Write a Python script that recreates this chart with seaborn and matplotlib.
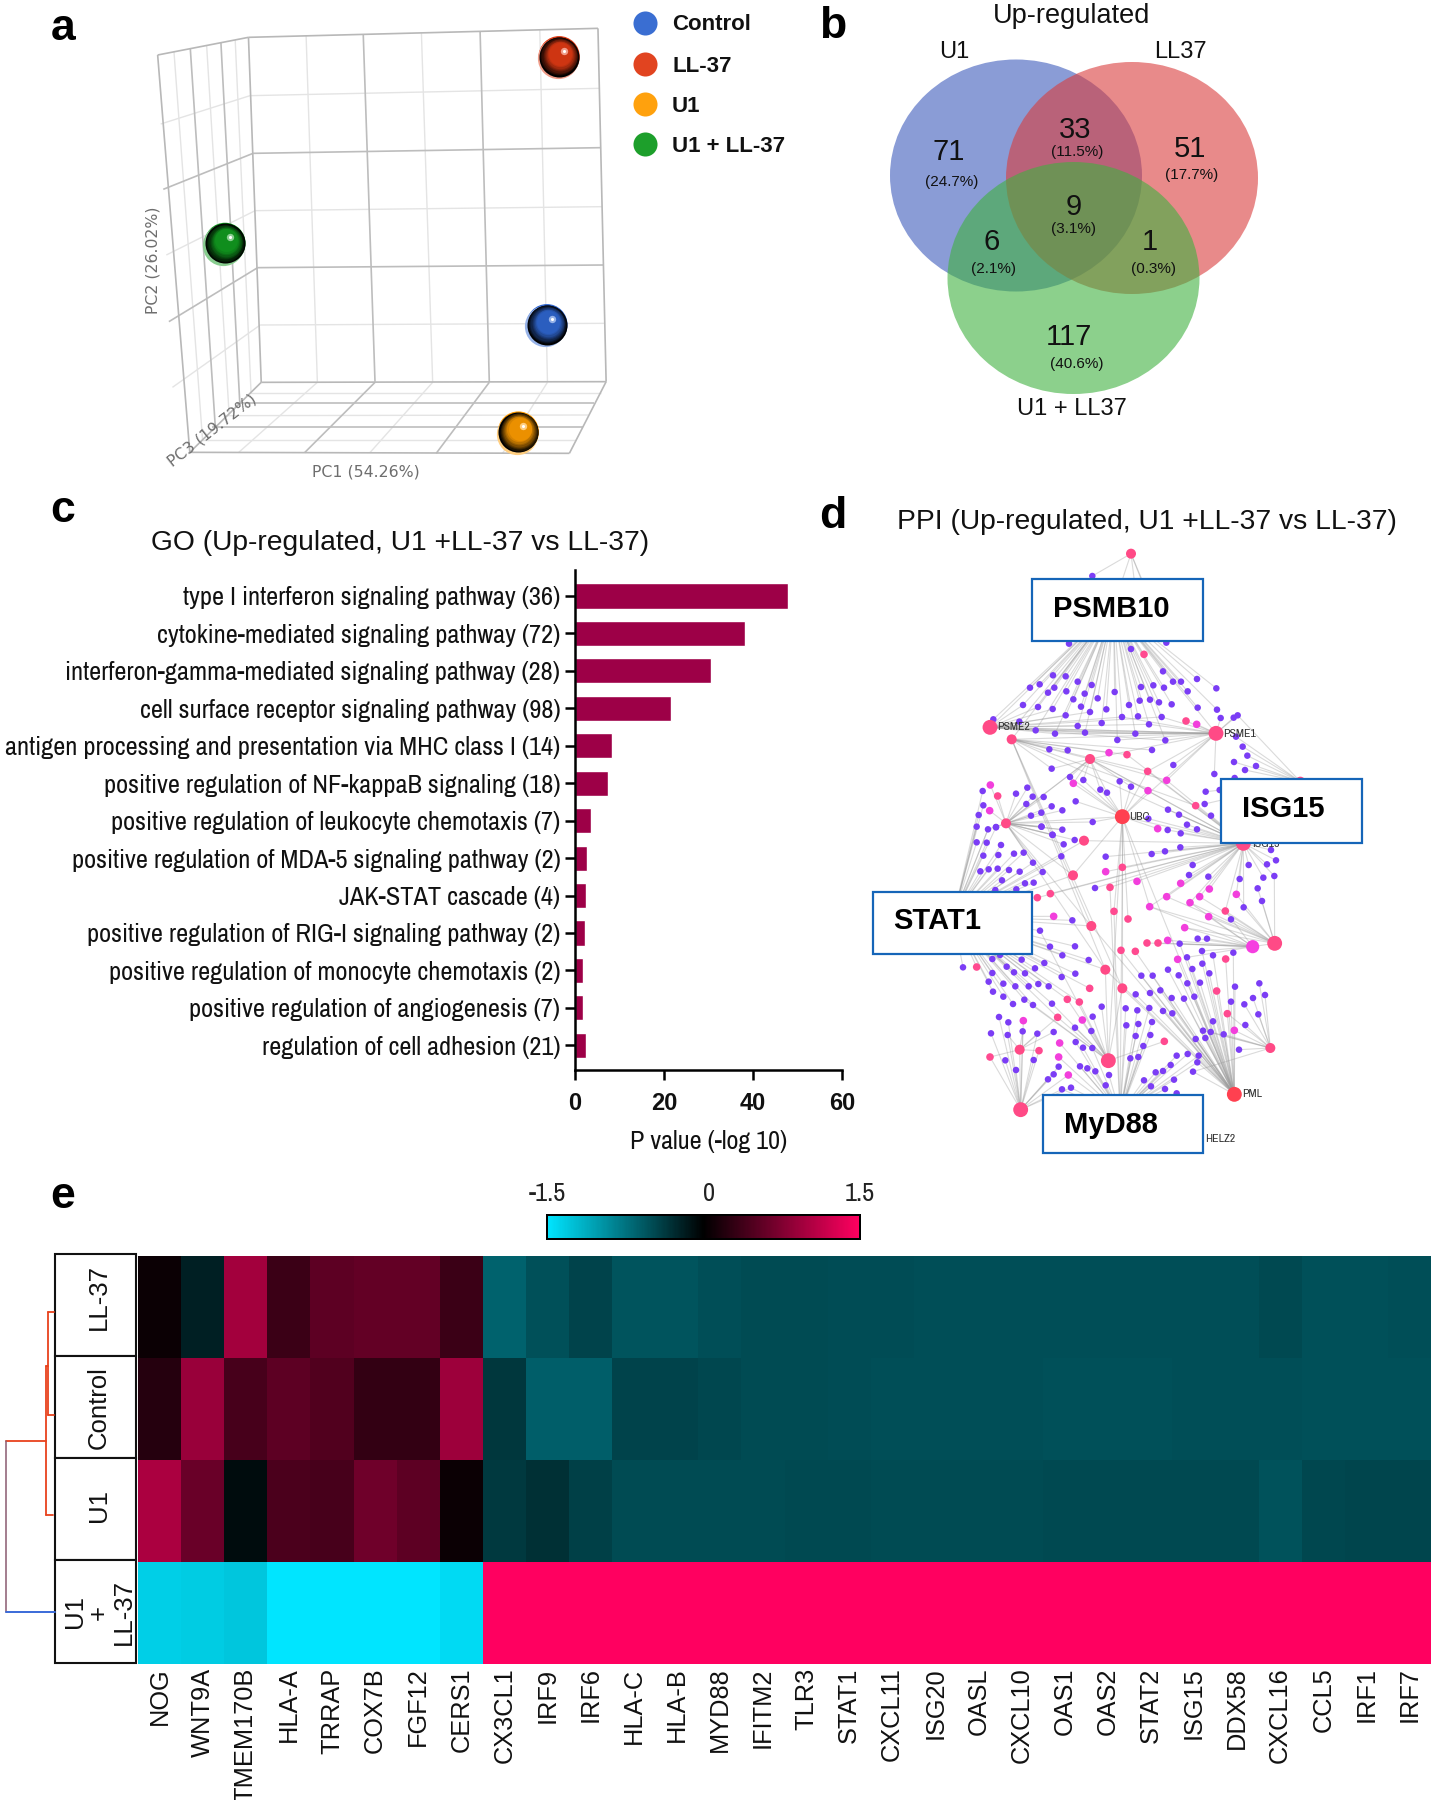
#import libraries
import numpy as np
import pandas as pd
import matplotlib
matplotlib.use("Agg")
import matplotlib.pyplot as plt
from matplotlib import font_manager
from matplotlib.collections import LineCollection
from matplotlib.colors import LinearSegmentedColormap, to_rgb
from matplotlib.patches import Ellipse, Rectangle
import seaborn as sns

#panel a values (positions on the 3d box picture)
pca_groups = ["Control", "LL-37", "U1", "U1 + LL-37"]
pca_x = [1072, 1096, 1016, 441]
pca_y = [974, 170, 1296, 730]
pca_colors = ["#2F66D0", "#E03A14", "#FF9C00", "#119A1F"]
box_edges = [(487, 112, 1172, 85), (1172, 85, 1188, 1145), (1188, 1145, 512, 1147), (487, 112, 512, 1147),
             (487, 112, 309, 165), (309, 165, 372, 1357), (372, 1357, 512, 1147), (372, 1357, 1116, 1360),
             (1116, 1360, 1188, 1145)]
grid_dark = [(712, 105, 735, 1145), (941, 95, 959, 1145), (496, 460, 1178, 443), (505, 803, 1183, 795),
             (320, 568, 496, 460), (331, 965, 505, 803), (735, 1147, 597, 1358), (959, 1147, 855, 1360),
             (465, 1210, 1165, 1210), (415, 1280, 1142, 1280), (373, 146, 422, 1281), (433, 128, 470, 1210)]
grid_light = [(600, 108, 622, 1145), (826, 100, 848, 1145), (1058, 90, 1073, 1145), (490, 287, 1175, 265),
              (500, 632, 1180, 620), (510, 975, 1186, 970), (315, 372, 490, 287), (326, 765, 500, 632),
              (338, 1162, 510, 975), (622, 1147, 468, 1357), (848, 1147, 725, 1358), (1073, 1147, 985, 1360),
              (490, 1180, 1177, 1180), (440, 1247, 1153, 1245), (395, 1320, 1128, 1320), (341, 155, 397, 1319),
              (405, 136, 449, 1241), (461, 120, 492, 1176)]

#panel b values
venn_counts = ["71", "33", "51", "9", "6", "1", "117"]
venn_pcts = ["(24.7%)", "(11.5%)", "(17.7%)", "(3.1%)", "(2.1%)", "(0.3%)", "(40.6%)"]

#panel c values
go_terms = ["type I interferon signaling pathway (36)", "cytokine-mediated signaling pathway (72)",
            "interferon-gamma-mediated signaling pathway (28)", "cell surface receptor signaling pathway (98)",
            "antigen processing and presentation via MHC class I (14)", "positive regulation of NF-kappaB signaling (18)",
            "positive regulation of leukocyte chemotaxis (7)", "positive regulation of MDA-5 signaling pathway (2)",
            "JAK-STAT cascade (4)", "positive regulation of RIG-I signaling pathway (2)",
            "positive regulation of monocyte chemotaxis (2)", "positive regulation of angiogenesis (7)",
            "regulation of cell adhesion (21)"]
go_values = [47.8, 38.2, 30.6, 21.6, 8.3, 7.5, 3.7, 2.8, 2.4, 2.3, 1.7, 1.7, 2.4]

#panel d network, top part read in one crop, low part in the next crop
hub_top = {"top": (573, 41), "psmb10": (520, 200), "psme2": (150, 562), "psme2b": (215, 598), "psme1": (828, 580),
           "ubc": (547, 830), "left": (198, 850), "isg_r": (1081, 725), "m450": (450, 657)}
hub_low = {"isg15": (910, 70), "stat1": (40, 290), "myd88": (540, 880), "pml": (883, 823), "r1": (1004, 370),
           "r2": (938, 380), "r3": (991, 684), "r4": (505, 722), "bl": (242, 869), "m1": (399, 166),
           "m2": (432, 62), "m3": (454, 318), "m4": (496, 449), "m5": (547, 505), "m6": (239, 689)}
psmb10_top = [(339, 406), (377, 409), (413, 425), (455, 435), (270, 443), (299, 433), (343, 443), (324, 458), (379, 454),
              (434, 461), (400, 478), (473, 475), (524, 456), (603, 441), (640, 436), (672, 443), (599, 482), (630, 479),
              (657, 487), (695, 493), (567, 495), (499, 508), (423, 500), (377, 526), (450, 516), (546, 531), (594, 529),
              (665, 531), (413, 558), (485, 549), (627, 553), (345, 581), (435, 578), (586, 581), (532, 600), (676, 601),
              (669, 394), (699, 425), (723, 425), (771, 417), (743, 454), (829, 445), (573, 327), (612, 343), (249, 495),
              (294, 501), (338, 507), (160, 538), (238, 545), (287, 571), (773, 503), (831, 509), (828, 580), (150, 562),
              (215, 598), (387, 311), (679, 308)]
psme2_top = [(249, 495), (294, 501), (338, 507), (377, 526), (450, 516), (546, 531), (627, 553), (435, 578), (586, 581),
             (676, 601), (287, 571), (345, 581), (160, 538), (238, 545), (413, 558), (828, 580), (828, 580), (665, 531)]
psme2b_top = [(328, 628), (383, 631), (507, 638), (561, 644), (636, 630), (450, 657), (623, 694), (767, 797), (910, 910),
              (335, 686), (828, 580), (496, 1289), (454, 1158), (547, 1345)]
psme1_top = [(738, 543), (770, 553), (665, 531), (627, 553), (546, 531), (532, 600), (676, 601), (586, 581), (435, 578),
             (345, 581), (287, 571), (842, 534), (881, 533), (893, 526), (700, 675), (623, 694), (450, 657), (680, 721),
             (823, 702), (547, 830)]
isg_r_top = [(888, 590), (908, 620), (922, 647), (882, 666), (915, 690), (948, 678), (884, 714), (893, 526), (839, 750),
             (797, 755), (794, 792)]
top_top = [(457, 108), (520, 200), (679, 308), (640, 200), (590, 180)]
left_top = [(228, 761), (262, 743), (278, 770), (311, 771), (259, 792), (273, 827), (304, 818), (304, 860), (458, 846),
            (173, 768), (151, 735), (335, 799), (367, 811), (337, 884), (367, 869), (144, 868), (168, 861), (149, 812),
            (547, 830), (450, 657)]
ubc_top = [(573, 740), (539, 724), (624, 752), (653, 866), (481, 749), (501, 758), (390, 711), (430, 720), (400, 730),
           (407, 784), (623, 694), (910, 910), (625, 836), (458, 846)]
m450_top = [(335, 686), (400, 730), (390, 711), (430, 720), (481, 749), (501, 758), (573, 740), (198, 850), (680, 721),
            (910, 910)]
isg15_top = [(684, 809), (717, 824), (741, 854), (771, 868), (813, 827), (683, 870), (722, 880), (625, 836), (767, 797),
             (623, 694), (680, 721), (450, 657), (561, 644)]
stat1_top = [(128, 753), (130, 796), (116, 825), (110, 860), (144, 868)]
stat1_low = [(110, 20), (144, 28), (168, 22), (110, 67), (140, 68), (183, 75), (130, 107), (175, 105), (222, 101), (251, 98),
             (121, 154), (146, 148), (173, 146), (207, 150), (239, 155), (279, 128), (308, 156), (186, 181), (255, 190),
             (281, 188), (166, 210), (229, 208), (69, 442), (200, 440), (157, 417), (180, 405), (245, 419), (157, 459),
             (222, 457), (255, 460), (146, 485), (190, 491), (226, 499), (266, 499), (295, 492), (326, 499), (159, 515),
             (190, 530), (219, 552), (253, 539), (279, 555), (336, 551), (300, 332), (330, 380), (405, 379), (367, 406),
             (446, 420), (313, 429), (285, 445), (365, 471), (406, 461), (110, 441), (397, 301), (341, 289), (454, 318),
             (496, 449), (353, 592), (449, 505), (382, 538), (418, 546), (432, 62), (399, 166), (364, 109)]
left_low = [(338, 45), (367, 29), (371, 73), (404, 60), (305, 20), (454, 318), (496, 449), (399, 166), (279, 128), (308, 156)]
myd88_low = [(457, 684), (429, 683), (407, 666), (420, 739), (442, 745), (466, 754), (507, 765), (497, 796), (366, 808),
             (393, 803), (385, 765), (356, 711), (359, 669), (557, 565), (592, 571), (559, 616), (595, 612), (587, 648),
             (571, 715), (595, 711), (610, 678), (636, 606), (631, 645), (628, 564), (702, 779), (612, 781), (633, 799),
             (675, 807), (710, 820), (692, 735), (669, 753), (647, 757), (772, 727), (776, 707), (743, 702), (710, 707),
             (522, 274), (510, 202), (547, 142)]
r4_low = [(458, 590), (454, 633), (405, 623), (427, 600), (485, 560), (673, 664), (418, 546), (382, 538), (353, 592),
          (336, 551), (279, 555), (253, 539), (300, 332), (547, 505), (496, 449)]
pml_low = [(604, 467), (638, 467), (684, 449), (716, 466), (757, 447), (787, 431), (808, 460), (742, 490), (780, 488),
           (661, 511), (630, 519), (695, 534), (732, 536), (763, 530), (669, 573), (697, 580), (741, 412), (713, 418),
           (786, 393), (819, 604), (789, 632), (812, 636), (851, 643), (767, 657), (796, 654), (862, 581), (830, 513),
           (873, 545), (885, 500), (547, 505), (496, 449), (454, 318), (772, 727), (776, 707), (719, 371), (759, 755),
           (587, 523), (819, 406), (880, 398), (857, 417), (543, 391), (586, 394)]
r3_low = [(958, 490), (975, 525), (939, 534), (955, 583), (916, 615), (913, 553), (883, 631), (897, 689), (851, 643),
          (812, 636), (789, 632), (862, 581), (759, 755)]
r1_low = [(911, 262), (873, 298), (856, 273), (889, 223), (806, 290), (750, 248), (779, 230), (629, 260), (680, 230),
          (734, 323), (966, 243), (953, 205), (938, 380), (1003, 168)]
r2_low = [(773, 356), (801, 356), (719, 371), (683, 361), (654, 369), (621, 369), (734, 323), (806, 290), (629, 260),
          (750, 248), (856, 273), (741, 412), (786, 393)]
isg15_low = [(926, 135), (899, 177), (889, 223), (911, 262), (805, 170), (747, 165), (758, 135), (722, 190), (808, 207),
             (680, 230), (750, 248), (779, 230), (721, 82), (675, 94), (635, 102), (497, 110), (591, 184), (510, 202),
             (465, 204), (331, 221), (292, 233), (432, 62), (547, 142), (497, 155), (629, 260), (856, 273), (981, 133),
             (970, 173), (993, 90), (1008, 121), (1003, 168)]
bl_low = [(177, 591), (205, 607), (153, 640), (203, 645), (248, 634), (250, 602), (196, 721), (228, 750), (281, 720),
          (297, 692), (239, 689), (150, 711), (341, 763), (324, 778), (356, 740), (292, 641), (366, 808), (393, 803),
          (385, 765)]
m6_low = [(341, 636), (292, 641), (248, 634), (203, 645), (353, 592), (297, 692), (150, 711)]
ubc_low = [(547, 142), (522, 274), (399, 166), (564, 297), (629, 260), (883, 823), (547, 505), (505, 722)]
magenta_top = [(507, 638), (400, 730), (680, 721), (624, 752), (770, 553), (151, 735), (149, 812), (653, 866)]
magenta_low = [(497, 155), (591, 184), (341, 289), (629, 260), (889, 223), (734, 323), (683, 361), (883, 631), (359, 669),
               (356, 711), (385, 765), (427, 600), (250, 602), (713, 418), (722, 190), (808, 207), (680, 230), (750, 248),
               (779, 230), (806, 290)]
rose_top = [(612, 343), (738, 543), (561, 644), (623, 694), (767, 797), (173, 768)]
rose_low = [(547, 142), (510, 202), (331, 221), (292, 233), (522, 274), (564, 297), (856, 273), (621, 369), (654, 369),
            (543, 391), (586, 394), (857, 417), (830, 513), (862, 581), (673, 664), (449, 505), (382, 538), (418, 546),
            (353, 592), (150, 711), (297, 692), (110, 441)]

#panel e values
genes = ["NOG", "WNT9A", "TMEM170B", "HLA-A", "TRRAP", "COX7B", "FGF12", "CERS1", "CX3CL1", "IRF9", "IRF6", "HLA-C", "HLA-B",
         "MYD88", "IFITM2", "TLR3", "STAT1", "CXCL11", "ISG20", "OASL", "CXCL10", "OAS1", "OAS2", "STAT2", "ISG15", "DDX58",
         "CXCL16", "CCL5", "IRF1", "IRF7"]
row_ll37 = [0.07, -0.2, 0.95, 0.35, 0.55, 0.58, 0.58, 0.35, -0.64, -0.52, -0.44, -0.54, -0.54, -0.51, -0.49, -0.49, -0.5, -0.5,
            -0.51, -0.51, -0.51, -0.51, -0.51, -0.51, -0.51, -0.51, -0.47, -0.52, -0.52, -0.51]
row_control = [0.22, 0.9, 0.42, 0.55, 0.47, 0.3, 0.3, 0.92, -0.36, -0.62, -0.62, -0.44, -0.44, -0.46, -0.49, -0.49, -0.5, -0.51,
               -0.51, -0.51, -0.51, -0.52, -0.52, -0.52, -0.51, -0.51, -0.51, -0.52, -0.52, -0.52]
row_u1 = [1.0, 0.62, -0.08, 0.44, 0.42, 0.65, 0.55, 0.07, -0.37, -0.31, -0.42, -0.49, -0.49, -0.49, -0.49, -0.48, -0.48, -0.49,
          -0.49, -0.49, -0.49, -0.48, -0.48, -0.48, -0.48, -0.48, -0.53, -0.46, -0.45, -0.45]
row_both = [-1.35, -1.33, -1.3, -1.5, -1.5, -1.5, -1.5, -1.42, 1.5, 1.5, 1.5, 1.5, 1.5, 1.5, 1.5, 1.5, 1.5, 1.5,
            1.5, 1.5, 1.5, 1.5, 1.5, 1.5, 1.5, 1.5, 1.5, 1.5, 1.5, 1.5]
row_names = ["LL-37", "Control", "U1", "U1\n+\nLL-37"]

W, H = 1434, 1800
sns.set_theme(style="white")
#look for a narrow face, the figure uses condensed labels
narrow = "Liberation Sans"
narrow_scale = 0.875
for f in font_manager.fontManager.ttflist:
    low_name = f.name.lower()
    if "narrow" in low_name or "condensed" in low_name:
        narrow = f.name
        narrow_scale = 1.0
        break
plt.rcParams["font.family"] = ["Liberation Sans", "DejaVu Sans"]
fig = plt.figure(figsize=(W / 100, H / 100), dpi=100, facecolor="white")

#axes from picture pixels
def px_axes(left, top, right, bottom):
    ax = fig.add_axes([left / W, 1 - bottom / H, (right - left) / W, (bottom - top) / H])
    return ax

#whole figure overlay for text and boxes
page = px_axes(0, 0, W, H)
page.set_xlim(0, W)
page.set_ylim(H, 0)
page.axis("off")

#text sits a bit high when centred
def put(x, y, txt, **kw):
    kw.setdefault("ha", "center")
    kw.setdefault("va", "center")
    return page.text(x, y + 2, txt, **kw)

for letter, x, y in [("a", 63, 27), ("b", 833, 25), ("c", 63, 508), ("d", 833, 515), ("e", 63, 1194)]:
    put(x, y, letter, fontsize=32, fontweight="bold", color="black")

#a ---------------------------------------------------------
ax_a = px_axes(0, 0, 800, 490)
ax_a.set_xlim(0, 1568)
ax_a.set_ylim(1470, 0)
ax_a.axis("off")
ax_a.add_collection(LineCollection([[(a, b), (c, d)] for a, b, c, d in grid_light], colors="#E4E4E4", linewidths=1.0))
ax_a.add_collection(LineCollection([[(a, b), (c, d)] for a, b, c, d in grid_dark], colors="#BDBDBD", linewidths=1.2))
ax_a.add_collection(LineCollection([[(a, b), (c, d)] for a, b, c, d in box_edges], colors="#B8B8B8", linewidths=1.2))

pca = pd.DataFrame({"x": pca_x, "y": pca_y, "group": pca_groups})
sns.scatterplot(data=pca, x="x", y="y", hue="group", palette=pca_colors, s=880, linewidth=0, legend=False, ax=ax_a, zorder=3)
ax_a.set_xlabel("")
ax_a.set_ylabel("")

#sphere shading, layers pulled to upper right
for x, y, col in zip(pca_x, pca_y, pca_colors):
    base = np.array(to_rgb(col))
    ax_a.scatter([x - 3], [y + 5], s=880, color=base * 0.5 + 0.5, linewidth=0, zorder=3)
    for k in range(14):
        t = k / 13
        shade = base * min(1, t * 1.7) * 0.92
        ax_a.scatter([x + 4 * t], [y - 14 * t], s=830 * (1 - t * 0.85) ** 1.5, color=shade, linewidth=0, zorder=4)
    ax_a.scatter([x + 9], [y - 18], s=28, color=base * 0.5 + 0.5, linewidth=0, zorder=5)
    ax_a.scatter([x + 9], [y - 18], s=5, color="white", linewidth=0, zorder=6)

put(366, 470, "PC1 (54.26%)", fontsize=11.3, color="#6E6E6E", family="DejaVu Sans")
put(153, 258, "PC2 (26.02%)", fontsize=11.3, color="#6E6E6E", family="DejaVu Sans", rotation=90)
put(212, 428, "PC3 (19.72%)", fontsize=11.3, color="#6E6E6E", family="DejaVu Sans", rotation=38)

for name, col, y in zip(pca_groups, pca_colors, [23, 64, 104, 144]):
    page.scatter([645], [y], s=300, color=col, linewidth=0, alpha=0.95)
    put(672, y, name, fontsize=16, fontweight="bold", color="#111111", ha="left")

#b ---------------------------------------------------------
page.add_patch(Ellipse((1016, 175.5), 252, 232, facecolor="#3C5ABB", alpha=0.6, linewidth=0))
page.add_patch(Ellipse((1132, 178), 252, 232, facecolor="#DA3C3C", alpha=0.6, linewidth=0))
page.add_patch(Ellipse((1073.5, 278), 252, 232, facecolor="#3FB13F", alpha=0.6, linewidth=0))
count_xy = [(949, 150), (1075, 128), (1190, 147), (1074, 205), (992, 240), (1150, 240), (1069, 335)]
pct_xy = [(952, 180), (1077, 150), (1192, 173), (1074, 227), (994, 267), (1154, 267), (1077, 362)]
for txt, (x, y) in zip(venn_counts, count_xy):
    put(x, y, txt, fontsize=21, color="#111111")
for txt, (x, y) in zip(venn_pcts, pct_xy):
    put(x, y, txt, fontsize=11, color="#111111")
put(1072, 14, "Up-regulated", fontsize=19.5, color="#111111")
put(954, 50, "U1", fontsize=17, color="#111111")
put(1180, 50, "LL37", fontsize=17, color="#111111")
put(1072, 407, "U1 + LL37", fontsize=17, color="#111111")

#c ---------------------------------------------------------
ax_c = px_axes(575, 570, 842, 1070)
go = pd.DataFrame({"term": go_terms, "value": go_values})
sns.barplot(data=go, y="term", x="value", color="#9D0047", saturation=1, width=0.67, ax=ax_c)
ax_c.set_xlim(0, 60)
ax_c.set_ylim(12.66, -0.694)
sns.despine(ax=ax_c)
ax_c.spines["left"].set_linewidth(1.8)
ax_c.spines["bottom"].set_linewidth(1.8)
ax_c.spines["left"].set_color("black")
ax_c.spines["bottom"].set_color("black")
ax_c.set_xticks([0, 20, 40, 60])
ax_c.tick_params(axis="both", length=7.5, width=1.8, color="black", left=True, bottom=True)
ax_c.tick_params(axis="y", labelsize=19 * narrow_scale, pad=3)
ax_c.tick_params(axis="x", labelsize=17, pad=8)
for lab in ax_c.get_yticklabels():
    lab.set_family(narrow)
    lab.set_color("#111111")
#narrow face has no bold, the x numbers stay in the plain sans
for lab in ax_c.get_xticklabels():
    lab.set_fontweight("bold")
    lab.set_color("#111111")
ax_c.set_ylabel("")
ax_c.set_xlabel("P value (-log 10)", fontsize=18.8 * narrow_scale, family=narrow, color="#111111", labelpad=11)
put(400, 541, "GO (Up-regulated, U1 +LL-37 vs LL-37)", fontsize=20.3, color="#111111")

#d ---------------------------------------------------------
ax_d = px_axes(860, 540, 1380, 1170)
ax_d.set_xlim(-240, 1320)
ax_d.set_ylim(1890, 0)
ax_d.axis("off")

def low(pts):
    return [(a, b + 840) for a, b in pts]

hubs = dict(hub_top)
hubs.update({k: low([v])[0] for k, v in hub_low.items()})
links = [("psmb10", psmb10_top), ("psme2", psme2_top), ("psme2b", psme2b_top), ("psme1", psme1_top), ("isg_r", isg_r_top),
         ("top", top_top), ("left", left_top), ("ubc", ubc_top), ("m450", m450_top), ("isg15", isg15_top), ("stat1", stat1_top),
         ("stat1", low(stat1_low)), ("left", low(left_low)), ("myd88", low(myd88_low)), ("r4", low(r4_low)), ("pml", low(pml_low)),
         ("r3", low(r3_low)), ("r1", low(r1_low)), ("r2", low(r2_low)), ("isg15", low(isg15_low)), ("bl", low(bl_low)),
         ("m6", low(m6_low)), ("ubc", low(ubc_low))]
segs = []
for hub, members in links:
    segs += [[hubs[hub], m] for m in members]
ax_d.add_collection(LineCollection(segs, colors="#9A9A9A", linewidths=0.8, alpha=0.36, zorder=1))

magenta = set(magenta_top + low(magenta_low))
rose = set(rose_top + low(rose_low))
big = {"psme2", "psme1", "pml", "isg15", "r1", "r2", "bl", "r4", "ubc"}
rows = {}
for hub, members in links:
    for m in members:
        if m in magenta:
            rows[m] = "magenta"
        elif m in rose:
            rows[m] = "rose"
        else:
            rows[m] = "purple"
for m in magenta:
    rows[m] = "magenta"
for m in rose:
    rows[m] = "rose"
for k, v in hubs.items():
    rows[v] = "hub" if k in big else "hub2"
rows[hubs["ubc"]] = "red"
rows[hubs["pml"]] = "red"
rows[hubs["r2"]] = "magenta_hub"
nodes = pd.DataFrame([(a, b, c) for (a, b), c in rows.items()], columns=["u", "v", "kind"])
#the two hubs under the label boxes stay hidden anyway
node_pal = {"purple": "#7B3DF5", "magenta": "#F23FDC", "rose": "#FF4A90", "hub": "#FF4A86", "hub2": "#FF4A86",
            "red": "#FF4050", "magenta_hub": "#F53FE0"}
node_size = {"purple": 22, "magenta": 30, "rose": 30, "hub": 115, "hub2": 52, "red": 115, "magenta_hub": 90}
sns.scatterplot(data=nodes, x="u", y="v", hue="kind", palette=node_pal, size="kind", sizes=node_size, linewidth=0,
                legend=False, ax=ax_d, zorder=2)
ax_d.set_xlabel("")
ax_d.set_ylabel("")
for txt, u, v in [("PSME2", 172, 562), ("PSME1", 850, 583), ("UBC", 567, 832), ("ISG15", 935, 912), ("PML", 905, 1663), ("HELZ2", 795, 1798)]:
    ax_d.text(u, v, txt, fontsize=8.5, family=narrow, color="#333333", ha="left", va="center", zorder=3)

put(1147, 520, "PPI (Up-regulated, U1 +LL-37 vs LL-37)", fontsize=20.3, color="#111111")
page.set_zorder(5)
for txt, l, t, r, b, tx, ty in [("PSMB10", 1032, 579, 1203, 641, 1053, 607), ("ISG15", 1221, 779, 1362, 843, 1242, 807),
                                ("STAT1", 873, 892, 1032, 954, 893, 919), ("MyD88", 1043, 1095, 1203, 1153, 1064, 1123)]:
    page.add_patch(Rectangle((l, t), r - l, b - t, facecolor="white", edgecolor="#1565B8", linewidth=1.6))
    put(tx, ty, txt, fontsize=21, fontweight="bold", color="black", ha="left")

#e ---------------------------------------------------------
heat_cmap = LinearSegmentedColormap.from_list("cyan_black_pink", ["#00E5FF", "#000000", "#FF0060"])
heat = pd.DataFrame([row_ll37, row_control, row_u1, row_both], columns=genes, index=row_names)
ax_e = px_axes(138, 1256, 1431, 1664)
cax = px_axes(547, 1215, 860, 1239)
sns.heatmap(heat, ax=ax_e, cmap=heat_cmap, vmin=-1.5, vmax=1.5, cbar_ax=cax, cbar_kws={"orientation": "horizontal"},
            xticklabels=True, yticklabels=False, linewidths=0)
ax_e.set_xlabel("")
ax_e.set_ylabel("")
ax_e.tick_params(axis="x", length=0, pad=2.5, labelsize=18.3, labelrotation=90, labelcolor="#111111")
for lab in ax_e.get_xticklabels():
    lab.set_va("top")
cax.xaxis.set_ticks_position("top")
cax.set_xticks([-1.5, 0.05, 1.5], ["-1.5", "0", "1.5"])
cax.set_xlim(-1.5, 1.5)
cax.tick_params(axis="x", length=0, pad=7.5, labelsize=19 * narrow_scale, labelcolor="#222222")
for lab in cax.get_xticklabels():
    lab.set_family(narrow)
for sp in cax.spines.values():
    sp.set_visible(True)
    sp.set_linewidth(1.4)
    sp.set_color("black")

row_text_y = [1297, 1408, 1506, 1612]
for name, t, b, ty in zip(row_names, [1254, 1356, 1458, 1560], [1356, 1458, 1560, 1663], row_text_y):
    page.add_patch(Rectangle((55, t), 81, b - t, facecolor="white", edgecolor="#111111", linewidth=1.5))
    page.text(99, ty, name, fontsize=18.5, color="#111111", rotation=90, ha="center", va="center",
              multialignment="center", linespacing=1.02)

#dendrogram
page.plot([6, 46], [1441, 1441], color="#E8421C", lw=1.3)
page.plot([46, 46], [1366, 1515], color="#E8421C", lw=1.3)
page.plot([46, 53], [1515, 1515], color="#E8421C", lw=1.3)
page.plot([46, 48], [1366, 1366], color="#E8421C", lw=1.3)
page.plot([48, 48], [1312, 1415], color="#E8421C", lw=1.3)
page.plot([48, 54], [1312, 1312], color="#E8421C", lw=1.3)
page.plot([48, 54], [1415, 1415], color="#E8421C", lw=1.3)
page.plot([6, 6], [1441, 1612], color="#8A5A70", lw=1.1)
page.plot([6, 55], [1612, 1612], color="#3A6AD8", lw=1.4)
page.set_xlim(0, W)
page.set_ylim(H, 0)

fig.savefig("out.png", dpi=100, facecolor="white")
